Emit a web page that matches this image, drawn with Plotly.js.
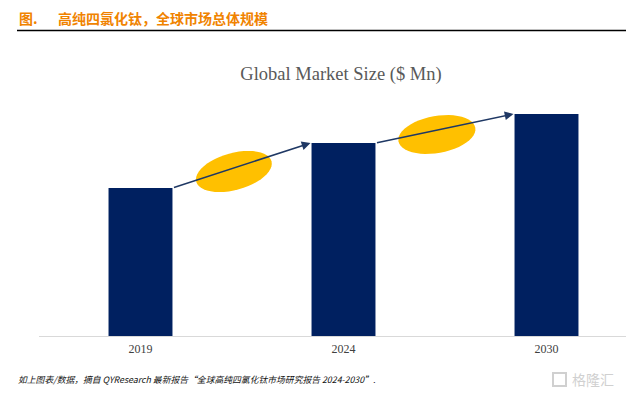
<!DOCTYPE html>
<html>
<head>
<meta charset="utf-8">
<script src="https://cdn.plot.ly/plotly-3.0.1.min.js"></script>
<style>html,body{margin:0;padding:0;background:#fff;}#chart{width:626px;height:395px;}</style>
</head>
<body>
<div id="chart"></div>
<script>
// Data
const years = ['2019', '2024', '2030'];
const marketSize = [148, 193, 222]; // estimated relative bar heights ($ Mn, unlabelled axis)
const chartTitle = 'Global Market Size ($ Mn)';
const headerLabel = '图.';
const headerText = '高纯四氯化钛，全球市场总体规模';
const footerText = '如上图表/数据，摘自 QYResearch 最新报告“全球高纯四氯化钛市场研究报告 2024-2030”.';
const watermark = '格隆汇';

const W = 626, H = 395;
const M = {l: 39, r: 0, t: 86, b: 59};
const plotH = H - M.t - M.b;
const plotW = W - M.l - M.r;
const xs = years.map((_, i) => i);
const barW = 0.315;
const xr = [-0.5, -0.5 + plotW / 203];
// pixel -> paper helpers
const px = x => (x - M.l) / plotW;
const py = y => (H - M.b - y) / plotH;

const navy = '#002060';
const gold = '#FFC000';

function ellipsePath(a, b, deg) {
  const t = deg * Math.PI / 180;
  let d = '';
  for (let k = 0; k <= 48; k++) {
    const u = 2 * Math.PI * k / 48;
    const ex = a * Math.cos(u), ey = b * Math.sin(u);
    const X = ex * Math.cos(t) - ey * Math.sin(t);
    const Y = ex * Math.sin(t) + ey * Math.cos(t);
    d += (k === 0 ? 'M' : 'L') + X.toFixed(2) + ',' + Y.toFixed(2);
  }
  return d + 'Z';
}

const shapes = [];
const annotations = [];
for (let i = 0; i < xs.length - 1; i++) {
  // ellipse between bars
  const slopeDeg = Math.atan((marketSize[i + 1] - marketSize[i]) / (203 * (1 - barW))) * 180 / Math.PI;
  shapes.push({
    type: 'path', xref: 'x', yref: 'y',
    xsizemode: 'pixel', ysizemode: 'pixel',
    xanchor: xs[i] + 0.46, yanchor: (marketSize[i] + marketSize[i + 1]) / 2 - 6,
    path: ellipsePath(39, 18.5, slopeDeg * 0.85),
    fillcolor: gold, line: {width: 0}, layer: 'above'
  });
  // arrow from top-right of bar i to top-left of bar i+1
  annotations.push({
    x: xs[i + 1] - barW / 2 - 0.005, y: marketSize[i + 1],
    ax: xs[i] + barW / 2, ay: marketSize[i],
    xref: 'x', yref: 'y', axref: 'x', ayref: 'y',
    text: '', showarrow: true, arrowhead: 2, arrowsize: 1.1, arrowwidth: 1.6,
    arrowcolor: '#1F3864', standoff: 0, startstandoff: 0
  });
}

// header
annotations.push({xref: 'paper', yref: 'paper', x: px(17), y: py(18), xanchor: 'left', yanchor: 'middle',
  text: '<b>' + headerLabel + '</b>', showarrow: false,
  font: {family: 'Noto Sans CJK SC', size: 14, color: '#F08300'}});
annotations.push({xref: 'paper', yref: 'paper', x: px(56), y: py(18), xanchor: 'left', yanchor: 'middle',
  text: '<b>' + headerText + '</b>', showarrow: false,
  font: {family: 'Noto Sans CJK SC', size: 14, color: '#F08300'}});
shapes.push({type: 'line', xref: 'paper', yref: 'paper', x0: px(17), x1: px(626), y0: py(30.5), y1: py(30.5),
  line: {color: '#000000', width: 1.5}});
// footer
annotations.push({xref: 'paper', yref: 'paper', x: px(16), y: py(379), xanchor: 'left', yanchor: 'middle',
  text: '<i>' + footerText + '</i>', showarrow: false,
  font: {family: 'Noto Sans CJK SC', size: 8.8, color: '#111111'}});
// watermark
annotations.push({xref: 'paper', yref: 'paper', x: px(570), y: py(379), xanchor: 'left', yanchor: 'middle',
  text: watermark, showarrow: false,
  font: {family: 'Noto Sans CJK SC', size: 14, color: '#D0D0D0'}});
shapes.push({type: 'rect', xref: 'paper', yref: 'paper', x0: px(553), x1: px(566), y0: py(386), y1: py(373),
  line: {color: '#D0D0D0', width: 2}});

const data = [{
  type: 'bar', x: xs, y: marketSize, width: barW,
  marker: {color: navy, line: {width: 0}},
  hoverinfo: 'skip'
}];

const layout = {
  width: W, height: H,
  margin: M,
  paper_bgcolor: '#ffffff', plot_bgcolor: '#ffffff',
  showlegend: false,
  title: {
    text: chartTitle, xref: 'container', yref: 'container',
    x: 341 / W, y: 1 - 74 / H, xanchor: 'center', yanchor: 'middle',
    font: {family: 'Liberation Serif', size: 18.5, color: '#595959'}
  },
  xaxis: {
    range: xr, tickvals: xs, ticktext: years, ticks: '',
    showline: true, linecolor: '#D9D9D9', linewidth: 1,
    showgrid: false, zeroline: false, fixedrange: true,
    ticklabelstandoff: 2,
    tickfont: {family: 'Liberation Serif', size: 12, color: '#404040'}
  },
  yaxis: {range: [0, plotH], visible: false, showgrid: false, zeroline: false, fixedrange: true},
  shapes: shapes,
  annotations: annotations
};

Plotly.newPlot('chart', data, layout, {displayModeBar: false, staticPlot: true});
</script>
</body>
</html>
